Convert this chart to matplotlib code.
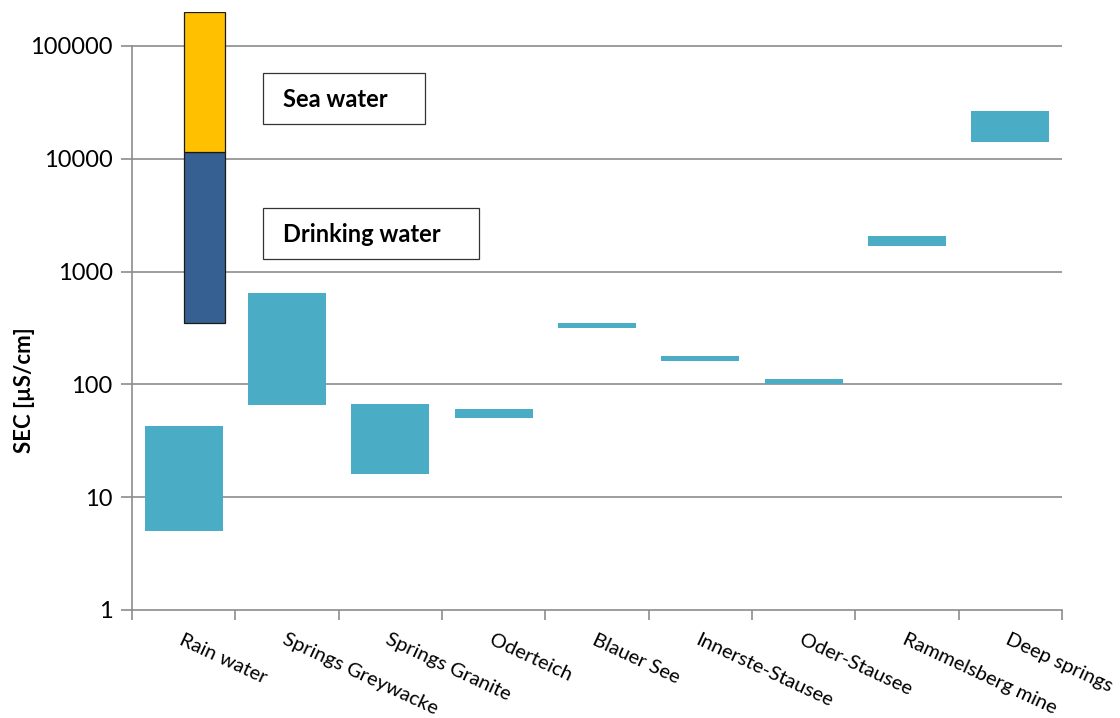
import matplotlib
matplotlib.use("Agg")
import matplotlib.pyplot as plt
from matplotlib.patches import Rectangle
from matplotlib.ticker import FixedLocator, NullFormatter, FixedFormatter

# ---- data ----
categories = ["Rain water", "Springs Greywacke", "Springs Granite", "Oderteich",
              "Blauer See", "Innerste-Stausee", "Oder-Stausee", "Rammelsberg mine",
              "Deep springs"]
sec_min = [5, 66, 16, 50, 318, 160, 100, 1700, 14000]
sec_max = [43, 640, 67, 60, 350, 180, 111, 2080, 26500]
drinking_range = (350, 11500)
sea_range = (11500, 200000)
ytick_values = [1, 10, 100, 1000, 10000, 100000]
ytick_labels = ["1", "10", "100", "1000", "10000", "100000"]
box_labels = ["Sea water", "Drinking water"]

plt.rcParams['font.family'] = ['Lato', 'DejaVu Sans']

W, H = 1120, 718
fig = plt.figure(figsize=(W / 100, H / 100), dpi=100)
ax_left, ax_right = 132 / W, 1062 / W
ax_bottom, ax_top = 1 - 610 / H, 1 - 12 / H
ax = fig.add_axes([ax_left, ax_bottom, ax_right - ax_left, ax_top - ax_bottom])

ax.set_yscale('log')
ax.set_ylim(1, 2e5)
ax.set_xlim(-0.5, len(categories) - 0.5)

grid_c = '#8c8c8c'
for v in ytick_values[1:]:
    ax.axhline(v, color=grid_c, lw=1.2, zorder=0)

teal = '#4BACC6'
x = list(range(len(categories)))
heights = [hi - lo for lo, hi in zip(sec_min, sec_max)]
ax.bar(x, heights, bottom=sec_min, width=0.755, color=teal, zorder=2)

# drinking / sea water reference bar (right half of first category)
ax.bar([0], [drinking_range[1] - drinking_range[0]], bottom=[drinking_range[0]],
       width=0.40, align='edge', color='#366092', edgecolor='#1a1a1a', lw=0.9, zorder=3)
ax.bar([0], [sea_range[1] - sea_range[0]], bottom=[sea_range[0]],
       width=0.40, align='edge', color='#FFC000', edgecolor='#1a1a1a', lw=0.9, zorder=3)

for s in ['top', 'right']:
    ax.spines[s].set_visible(False)
ax.spines['left'].set_color(grid_c)
ax.spines['bottom'].set_color(grid_c)
ax.spines['left'].set_linewidth(1.2)
ax.spines['bottom'].set_linewidth(1.2)
ax.spines['left'].set_bounds(1, 1e5)

ax.yaxis.set_major_locator(FixedLocator(ytick_values))
ax.yaxis.set_major_formatter(FixedFormatter(ytick_labels))
ax.yaxis.set_minor_locator(FixedLocator([]))
ax.tick_params(axis='y', which='major', length=8, width=1.2, color=grid_c,
               labelsize=17, pad=6, labelcolor='black')

ax.xaxis.set_major_locator(FixedLocator(x))
ax.xaxis.set_minor_locator(FixedLocator([i - 0.5 for i in range(len(categories) + 1)]))
ax.xaxis.set_minor_formatter(NullFormatter())
ax.set_xticklabels(categories, rotation=-25, ha='left', va='top', rotation_mode='anchor')
ax.tick_params(axis='x', which='major', length=0, labelsize=14.5, pad=15)
ax.tick_params(axis='x', which='minor', length=7.5, width=1.2, color=grid_c)

ax.set_ylabel("SEC [µS/cm]", fontsize=16, fontweight='bold')
ax.yaxis.set_label_coords(-0.1045, (610 - 390) / 598)

def axfx(px):
    return (px - 132) / 930

def axfy(py):
    return (610 - py) / 598

boxes = [(263, 73, 425, 124), (263, 208, 479, 259)]
for (x0, y0, x1, y1), lab in zip(boxes, box_labels):
    ax.add_patch(Rectangle((axfx(x0), axfy(y1)), axfx(x1) - axfx(x0), axfy(y0) - axfy(y1),
                           transform=ax.transAxes, facecolor='white', edgecolor='#333333',
                           lw=0.9, zorder=4, clip_on=False))
    ax.text(axfx(283), axfy((y0 + y1) / 2 + 1), lab, transform=ax.transAxes,
            ha='left', va='center', fontsize=17, fontweight='bold', zorder=5)

fig.savefig("out.png", dpi=100)
